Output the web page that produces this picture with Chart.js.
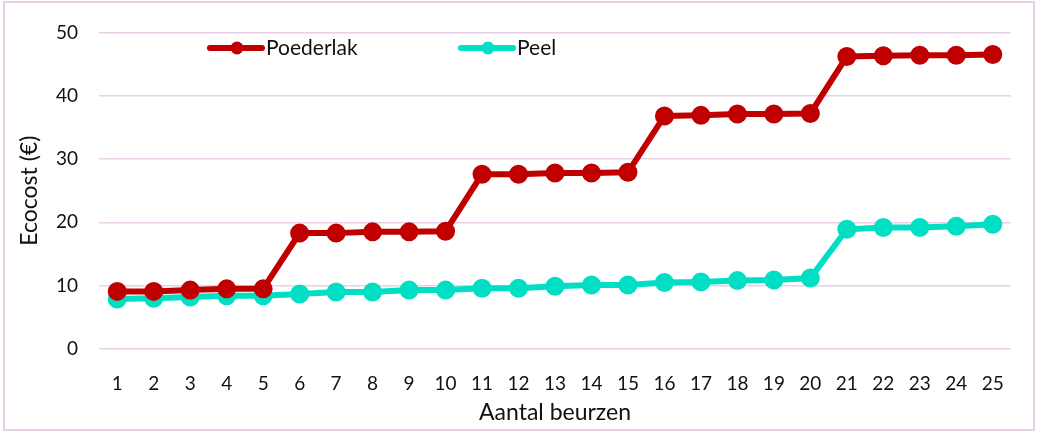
<!DOCTYPE html>
<html>
<head>
<meta charset="utf-8">
<script src="https://cdn.jsdelivr.net/npm/chart.js@4.4.1/dist/chart.umd.min.js"></script>
<style>
  body { margin: 0; background: #fff; }
  #wrap { position: relative; width: 1040px; height: 435px; }
  #frame {
    position: absolute; left: 3px; top: 1px; width: 1032px; height: 430px;
    box-sizing: border-box; border: 2px solid #e8d0e8; pointer-events: none;
  }
</style>
</head>
<body>
<div id="wrap">
  <canvas id="myChart" width="1040" height="435"></canvas>
  <div id="frame"></div>
</div>
<script>
const beurzen = ["1","2","3","4","5","6","7","8","9","10","11","12","13","14","15",
  "16","17","18","19","20","21","22","23","24","25"];
const poederlak = [9.1, 9.1, 9.3, 9.5, 9.5, 18.3, 18.3, 18.5, 18.5, 18.6,
  27.6, 27.6, 27.8, 27.8, 27.9, 36.8, 36.9, 37.1, 37.1, 37.2,
  46.2, 46.3, 46.4, 46.4, 46.5];
const peel = [7.9, 8.0, 8.2, 8.4, 8.4, 8.7, 9.0, 9.0, 9.3, 9.3,
  9.6, 9.6, 9.9, 10.1, 10.1, 10.5, 10.6, 10.8, 10.9, 11.2,
  18.9, 19.2, 19.2, 19.4, 19.7];
const yTicks = [0, 10, 20, 30, 40, 50];

const redColor = "#c00000";
const cyanColor = "#00dfc3";
const gridColor = "#e8d0e8";
const fontFamily = "Lato, 'Open Sans', sans-serif";

// legend drawn inside the plot area, like the original
const inlineLegend = {
  id: "inlineLegend",
  afterDraw(chart, args, opts) {
    const ctx = chart.ctx;
    ctx.save();
    ctx.font = "21px " + fontFamily;
    ctx.textBaseline = "middle";
    chart.data.datasets.forEach((ds, i) => {
      const x = opts.starts[i];
      const y = opts.y;
      ctx.strokeStyle = ds.borderColor;
      ctx.lineWidth = 6;
      ctx.lineCap = "round";
      ctx.beginPath();
      ctx.moveTo(x, y);
      ctx.lineTo(x + 52, y);
      ctx.stroke();
      ctx.fillStyle = ds.borderColor;
      ctx.beginPath();
      ctx.arc(x + 27, y, 6.5, 0, Math.PI * 2);
      ctx.fill();
      ctx.fillStyle = "#111";
      ctx.fillText(ds.label, x + 56, y);
    });
    ctx.restore();
  },
};

const ctx = document.getElementById("myChart");

new Chart(ctx, {
  type: "line",
  data: {
    labels: beurzen,
    datasets: [
      {
        label: "Poederlak",
        data: poederlak,
        borderColor: redColor,
        backgroundColor: redColor,
        borderWidth: 6,
        pointRadius: 6.5,
        pointHoverRadius: 6.5,
        tension: 0,
      },
      {
        label: "Peel",
        data: peel,
        borderColor: cyanColor,
        backgroundColor: cyanColor,
        borderWidth: 6,
        pointRadius: 6.5,
        pointHoverRadius: 6.5,
        tension: 0,
      },
    ],
  },
  options: {
    responsive: false,
    animation: false,
    layout: {
      padding: { top: 32, right: 29, bottom: 0, left: 10 },
    },
    scales: {
      x: {
        offset: true,
        grid: { display: false },
        border: { display: false },
        ticks: {
          color: "#111",
          padding: 15,
          maxRotation: 0,
          autoSkip: false,
          font: { family: fontFamily, size: 19 },
        },
        title: {
          display: true,
          text: "Aantal beurzen",
          color: "#111",
          font: { family: fontFamily, size: 23 },
          padding: { top: 2, bottom: 9 },
        },
        afterFit: (scale) => { scale.height = 86; },
      },
      y: {
        min: 0,
        max: 50,
        afterBuildTicks: (scale) => {
          scale.ticks = yTicks.map((v) => ({ value: v }));
        },
        grid: {
          color: gridColor,
          lineWidth: 1.5,
          drawTicks: false,
        },
        border: { display: false },
        ticks: {
          color: "#111",
          padding: 21,
          font: { family: fontFamily, size: 19 },
        },
        title: {
          display: true,
          text: "Ecocost (€)",
          color: "#111",
          font: { family: fontFamily, size: 23 },
          padding: { top: 6, bottom: 4 },
        },
        afterFit: (scale) => { scale.width = 89; },
      },
    },
    plugins: {
      legend: { display: false },
      tooltip: { enabled: false },
      inlineLegend: { starts: [210, 461], y: 48 },
    },
  },
  plugins: [inlineLegend],
});
</script>
</body>
</html>
